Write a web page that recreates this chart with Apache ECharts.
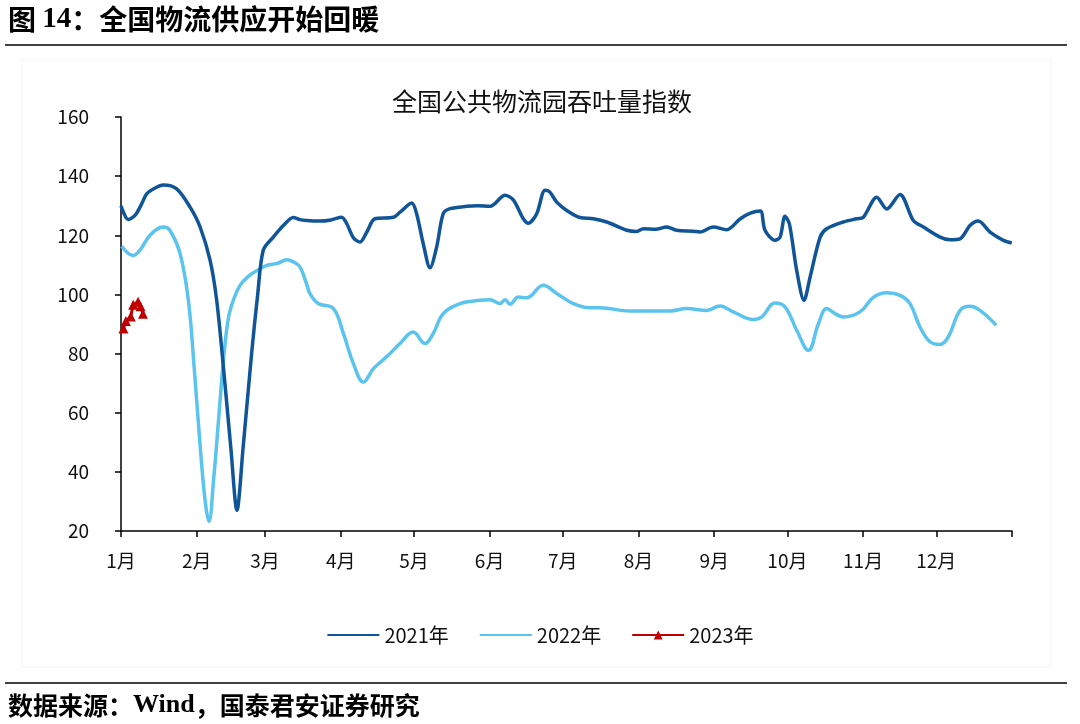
<!DOCTYPE html>
<html>
<head>
<meta charset="utf-8">
<script src="https://cdn.jsdelivr.net/npm/echarts@6/dist/echarts.min.js"></script>
<style>
html,body{margin:0;padding:0;background:#fff;}
#c{width:1080px;height:724px;}
</style>
</head>
<body>
<div id="c"></div>
<script>
// Month starts (day of year) and labels
var monthStarts = [0, 31, 59, 90, 120, 151, 181, 212, 243, 273, 304, 334];
var monthLabels = ['1月','2月','3月','4月','5月','6月','7月','8月','9月','10月','11月','12月'];
var yearEnd = 365;
var yTicks = [20, 40, 60, 80, 100, 120, 140, 160];

// [day of year, index value]
var s2021 = [
  [0,130],[3,125.3],[6,127],[8.5,130.7],[10.5,134],[14,136],[17.3,137],[22.8,135.7],[28.3,129.5],
  [32.4,122.8],[36.5,111.5],[39.2,98],[42,75],[45,48],[47.5,27],[50,48],[53.5,80],[56,100],[58.3,115],
  [62.4,119.4],[66.5,123.3],[70.6,126],[73.3,125.3],[76,125],[81.5,124.8],[86,125.2],[90.4,126.1],
  [92.5,123.9],[95.2,119.2],[97.9,117.7],[100.7,121.1],[104,125.6],[111.6,126.1],[114.3,127.8],
  [119.1,130.9],[121.1,127.3],[123.8,117.2],[126.6,109],[129.3,116],[132,127.3],[134.8,129],
  [141.6,129.8],[146,130],[151.2,129.8],[157.3,133.5],[160.7,132],[164.8,125.6],[166.9,124.1],
  [170.3,127.3],[173.7,135.2],[175.7,134.6],[178.5,131.2],[182.6,128.4],[188,126],[193.5,125.6],
  [199,124.5],[207.2,121.7],[211.3,121.3],[214,122.2],[219,122],[223.6,122.8],[227.6,121.7],
  [234.5,121.4],[237.2,121.1],[242.6,122.8],[248.1,121.9],[253.7,125.6],[257.8,127.5],[261.9,128.2],
  [263.8,121.7],[267.9,118.3],[270,119.4],[272,126.4],[273.8,123.9],[276.8,108.1],[279.8,98],
  [282.3,105.9],[286.4,119.4],[289.1,122.2],[295.9,124.5],[301.4,125.6],[304.1,126.1],[309.6,132.9],
  [313.7,128.9],[319.1,133.8],[324.6,125],[328.7,122.8],[335.5,119.4],[339.6,118.5],[343.7,118.8],
  [347.8,123.3],[351.2,124.8],[356,121.1],[361.5,118.3],[364.9,117.4]
];
var s2022 = [
  [0.3,116.3],[5,113.2],[7.8,115],[11.9,120],[17.3,122.8],[20,121.7],[24.2,113.8],[27.6,98],
  [30,75],[32.5,48],[34.5,30],[36,23.3],[38,38],[40,58],[42,78],[44,92],[46,98],[48.7,103],
  [52,106],[55.6,108],[59.7,109.8],[64,110.5],[67.9,111.7],[70.6,111],[73.3,109.3],[76,103.6],
  [77.4,100.3],[80.8,96.9],[87,95.2],[91.1,86.8],[95.2,76.6],[99.3,70.4],[103.4,74.9],[108.8,78.9],
  [114.3,83.4],[119.7,87.3],[124.5,83.4],[127.9,86.8],[132,93.5],[138.9,96.9],[147.1,98],[151.2,98.2],
  [155.3,96.9],[157.3,98.2],[159.4,96.7],[162.8,99.1],[166.2,98.9],[173,103.1],[178.5,100.3],
  [185.3,96.9],[192.1,95.5],[196.2,95.5],[208.5,94.4],[224.9,94.4],[231.7,95.2],[239.9,94.6],
  [245.4,96.1],[250.8,94.1],[259,91.5],[262.5,92.4],[267.9,97.1],[272,95.8],[276.8,87.9],
  [281.6,81.1],[285.7,90.1],[289.1,95.2],[292.5,93.5],[295.9,92.4],[302.7,94.1],[308.3,99.1],
  [313.7,100.6],[319.1,99.7],[323.2,96.9],[327.3,89],[331.4,84],[335.5,83.1],[338.9,85.6],
  [343.7,94.6],[347.8,96],[351.9,94.6],[358.5,89.6]
];
var s2023 = [[1,88.5],[2,91],[4,92.5],[5,96.5],[7,97.5],[8,96],[9,93.5]];

var seriesNames = ['2021年', '2022年', '2023年'];
var colors = ['#0F5598', '#5BC4EE', '#C00000'];

var FONT = '"Noto Sans CJK SC", "Noto Sans", sans-serif';

var chart = echarts.init(document.getElementById('c'), null, {renderer: 'canvas'});
var tickVals = monthStarts.concat([yearEnd]);

chart.setOption({
  backgroundColor: '#fff',
  animation: false,
  textStyle: {fontFamily: FONT},
  title: {
    text: '全国公共物流园吞吐量指数',
    left: 537, top: 84, textAlign: 'center',
    textStyle: {fontFamily: FONT, fontSize: 25, fontWeight: 'normal', color: '#111'}
  },
  graphic: [
    {type: 'rect', shape: {x: 22, y: 60, width: 1029, height: 607}, style: {fill: 'none', stroke: '#f4f4f4', lineWidth: 1}, z: -1},
    {type: 'text', left: 8, top: 5, style: {
      text: '{a|图 }{b|14}{a|：全国物流供应开始回暖}',
      rich: {
        a: {fontFamily: FONT, fontSize: 28, fontWeight: 'bold', fill: '#000'},
        b: {fontFamily: '"Liberation Serif", serif', fontSize: 29, fontWeight: 'bold', fill: '#000'}
      }
    }},
    {type: 'line', shape: {x1: 5, y1: 45, x2: 1067, y2: 45}, style: {stroke: '#000', lineWidth: 1.5}},
    {type: 'line', shape: {x1: 5, y1: 683, x2: 1067, y2: 683}, style: {stroke: '#000', lineWidth: 1.5}},
    {type: 'text', left: 8, top: 692, style: {
      text: '{a|数据来源：}{b|Wind}{a|，国泰君安证券研究}',
      rich: {
        a: {fontFamily: FONT, fontSize: 25, fontWeight: 'bold', fill: '#000'},
        b: {fontFamily: '"Liberation Serif", serif', fontSize: 26, fontWeight: 'bold', fill: '#000'}
      }
    }}
  ],
  legend: {
    data: [
      {name: seriesNames[0], itemStyle: {opacity: 0}},
      {name: seriesNames[1], itemStyle: {opacity: 0}},
      {name: seriesNames[2]}
    ],
    left: 'center',
    top: 620,
    itemWidth: 52,
    itemHeight: 11,
    itemGap: 30,
    textStyle: {fontFamily: FONT, fontSize: 20, color: '#111'}
  },
  grid: {left: 121, right: 68, top: 117, bottom: 193, containLabel: false},
  xAxis: {
    type: 'value',
    min: 0, max: yearEnd,
    splitLine: {show: false},
    axisLine: {show: true, lineStyle: {color: '#000', width: 1.5}},
    axisTick: {show: true, inside: false, length: 6, customValues: tickVals, lineStyle: {color: '#000', width: 1.5}},
    axisLabel: {
      customValues: monthStarts,
      margin: 20,
      fontSize: 19, color: '#111', fontFamily: FONT,
      formatter: function (v) { var i = monthStarts.indexOf(v); return i >= 0 ? monthLabels[i] : ''; }
    }
  },
  yAxis: {
    type: 'value',
    min: yTicks[0], max: yTicks[yTicks.length - 1], interval: 20,
    splitLine: {show: false},
    axisLine: {show: true, lineStyle: {color: '#000', width: 1.5}},
    axisTick: {show: true, inside: false, length: 6, lineStyle: {color: '#000', width: 1.5}},
    axisLabel: {margin: 32, fontSize: 19, color: '#111', fontFamily: FONT}
  },
  series: [
    {name: seriesNames[0], type: 'line', data: s2021, symbol: 'none', smooth: 0.3,
     lineStyle: {color: colors[0], width: 3.5}, itemStyle: {color: colors[0]}, z: 3},
    {name: seriesNames[1], type: 'line', data: s2022, symbol: 'none', smooth: 0.4,
     lineStyle: {color: colors[1], width: 3.5}, itemStyle: {color: colors[1]}, z: 2},
    {name: seriesNames[2], type: 'line', data: s2023, symbol: 'triangle', symbolSize: 10, showSymbol: true,
     lineStyle: {color: colors[2], width: 3}, itemStyle: {color: colors[2]}, z: 4}
  ]
});
</script>
</body>
</html>
